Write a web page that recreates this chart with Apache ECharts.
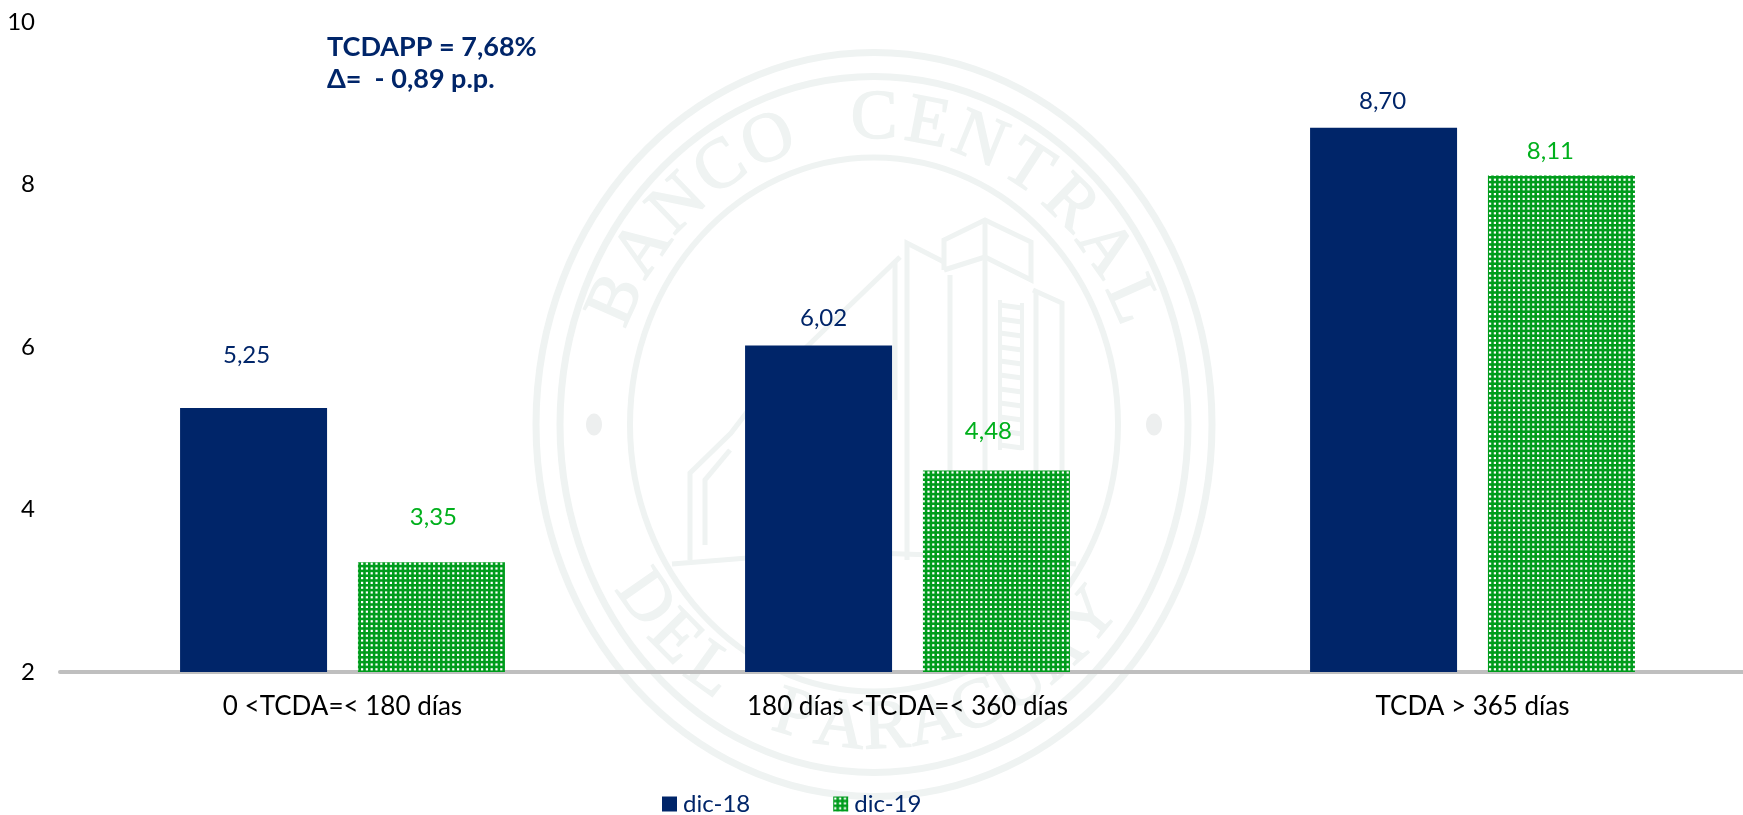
<!DOCTYPE html>
<html><head><meta charset="utf-8">
<style>html,body{margin:0;padding:0;background:#fff;overflow:hidden;width:1743px;height:815px}#c{width:1755px;height:815px}</style>
<script src="https://cdn.jsdelivr.net/npm/echarts@6/dist/echarts.min.js"></script>
</head><body><div id="c"></div>
<script>
const categories = ['0 <TCDA=< 180 días', '180 días <TCDA=< 360 días', 'TCDA > 365 días'];
const seriesNames = ['dic-18', 'dic-19'];
const dic18 = [5.25, 6.02, 8.70];
const dic19 = [3.35, 4.48, 8.11];
const noteLines = ['TCDAPP = 7,68%', 'Δ=  - 0,89 p.p.'];
const sealTop = 'BANCO CENTRAL';
const sealBottom = 'DEL PARAGUAY';

const FONT = 'Lato';
const NAVY = '#002569';
const GREEN = '#009C1C';
const GREEN_TXT = '#00B01C';
const WM = '#EFF3F2';

// dotted fill tile for the second series
const tile = document.createElement('canvas');
tile.width = tile.height = 24;
const tc = tile.getContext('2d');
tc.fillStyle = GREEN; tc.fillRect(0, 0, 24, 24);
tc.fillStyle = '#fff';
for (let i = 0; i < 5; i++) for (let j = 0; j < 5; j++) tc.fillRect(1 + i * 4.8, 1 + j * 4.8, 2.2, 2.2);

// label nudges (dx, gap above bar)
const nudge18 = [[-7, 54], [5, 28], [-1, 27]];
const nudge19 = [[2, 46], [-8, 40], [-11, 25]];
const fmt = v => v.toFixed(2).replace('.', ',');
const items = (vals, nudges) => vals.map((v, i) => ({
  value: v,
  label: { offset: [nudges[i][0], -(nudges[i][1] - 13)] }
}));

// watermark seal
const cx = 874, cy = 424.5;
const wm = [];
const ring = (rx, ry, w) => wm.push({ type: 'ellipse', silent: true, z: -10,
  shape: { cx, cy, rx, ry }, style: { fill: 'none', stroke: WM, lineWidth: w } });
ring(338, 372, 7); ring(314, 348, 7); ring(244, 267, 6);
[-280, 280].forEach(dx => wm.push({ type: 'ellipse', silent: true, z: -10,
  shape: { cx: cx + dx, cy, rx: 8, ry: 11 }, style: { fill: '#EDEFEF' } }));
const letter = (ch, x, y, rot) => wm.push({ type: 'text', silent: true, z: -10,
  x, y, rotation: rot,
  style: { text: ch, fill: WM, stroke: WM, lineWidth: 1.5, font: '70px "Liberation Serif"', align: 'center', verticalAlign: 'middle' } });
const a = 281, b = 305, rad = Math.PI / 180;
[...sealTop].forEach((ch, i) => {
  const t = (-66 + 11 * i) * rad;
  letter(ch, cx + a * Math.sin(t), cy - b * Math.cos(t), -t);
});
[...sealBottom].forEach((ch, i) => {
  const s = (-55 + 9.6 * i) * rad;
  letter(ch, cx + a * Math.sin(s), cy + b * Math.cos(s), s);
});
const pl = (pts, w) => wm.push({ type: 'polyline', silent: true, z: -10,
  shape: { points: pts }, style: { fill: 'none', stroke: WM, lineWidth: w || 5 } });
pl([[944, 270], [944, 240], [985, 220], [1031, 242], [1031, 280], [985, 257], [944, 270]]);
pl([[985, 220], [985, 560]]);
pl([[907, 560], [907, 243], [944, 262]]);
pl([[950, 275], [950, 560]]);
pl([[900, 257], [793, 360]]);
pl([[895, 400], [895, 262]]);
pl([[1033, 290], [1062, 303], [1062, 560]]);
pl([[1036, 292], [1036, 560]]);
pl([[690, 560], [690, 473], [731, 433], [760, 395]]);
pl([[705, 545], [705, 480], [730, 450]]);
pl([[672, 564], [760, 557], [874, 553], [990, 557], [1076, 564]]);
for (let y = 305; y < 450; y += 14) pl([[1000, y], [1022, y + 3]], 5);
pl([[1000, 300], [1000, 450]], 4); pl([[1022, 303], [1022, 450]], 4);

const chart = echarts.init(document.getElementById('c'), null, { renderer: 'canvas' });
chart.setOption({
  backgroundColor: '#fff',
  animation: false,
  textStyle: { fontFamily: FONT },
  grid: { left: 60, right: 0, top: 22, height: 650, containLabel: false },
  xAxis: {
    type: 'category', data: categories,
    axisTick: { show: false },
    axisLine: { lineStyle: { color: '#BFBFBF', width: 4 } },
    axisLabel: { color: '#000', fontFamily: FONT, fontSize: 26, margin: 22, interval: 0 }
  },
  yAxis: {
    type: 'value', min: 2, max: 10, interval: 2,
    splitLine: { show: false }, axisLine: { show: false }, axisTick: { show: false },
    axisLabel: { color: '#000', fontFamily: FONT, fontSize: 24, margin: 25,
      hideOverlap: false, showMinLabel: true, showMaxLabel: true }
  },
  legend: {
    left: 662, top: 792, icon: 'rect', itemWidth: 15, itemHeight: 15, itemGap: 83,
    padding: 0, data: seriesNames,
    textStyle: { color: NAVY, fontFamily: FONT, fontSize: 24, padding: [0, 0, 0, 1] }
  },
  graphic: { elements: wm.concat([
    { type: 'text', z: 100, x: 327, y: 34, style: { text: noteLines[0], fill: NAVY, font: 'bold 27px ' + FONT } },
    { type: 'text', z: 100, x: 327, y: 66, style: { text: noteLines[1], fill: NAVY, font: 'bold 27px ' + FONT } }
  ]) },
  series: [
    { name: seriesNames[0], type: 'bar', barWidth: 147, barGap: '21%',
      data: items(dic18, nudge18),
      itemStyle: { color: NAVY },
      label: { show: true, position: 'top', distance: 0, color: NAVY, fontFamily: FONT, fontSize: 24,
        formatter: p => fmt(p.value) } },
    { name: seriesNames[1], type: 'bar', barWidth: 147,
      data: items(dic19, nudge19),
      itemStyle: { color: { image: tile, repeat: 'repeat' } },
      label: { show: true, position: 'top', distance: 0, color: GREEN_TXT, fontFamily: FONT, fontSize: 24,
        formatter: p => fmt(p.value) } }
  ]
});
</script></body></html>
